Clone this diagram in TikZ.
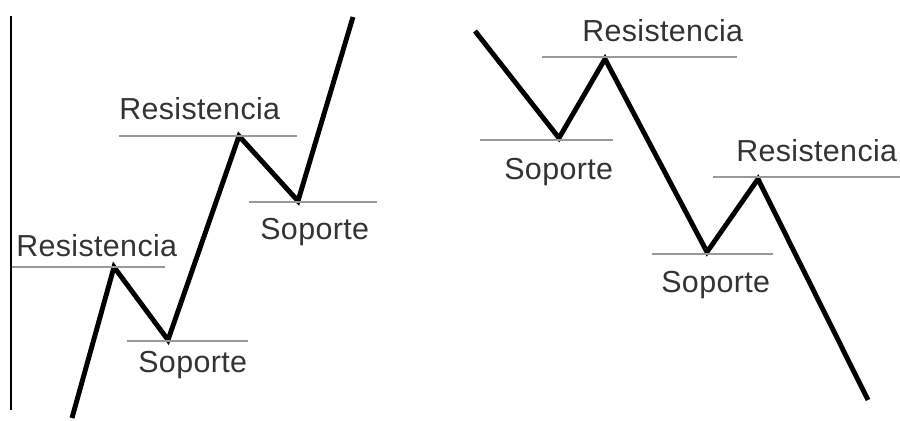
\documentclass[tikz,border=0pt]{standalone}
\usepackage{fontspec}
\setmainfont{Liberation Sans}
\newfontfamily\levelfont{Liberation Sans}[LetterSpace=1.2]
\usepackage{xcolor}
\usetikzlibrary{positioning}

\definecolor{levelgray}{gray}{0.6}
\definecolor{labelgray}{gray}{0.2}

\begin{document}
\begin{tikzpicture}[x=0.02cm,y=-0.02cm,
  price/.style={line width=2.8pt,black},
  level/.style={line width=1.2pt,levelgray},
  label/.style={inner sep=0pt,anchor=base west,text=labelgray,font=\levelfont\fontsize{17.3}{20}\selectfont}]
\useasboundingbox (0,0) rectangle (900,421);

% Left panel: rising market
\coordinate (axtop) at (11,16);
\coordinate (axbot) at (11,410);
\draw[line width=1pt] (axtop) -- (axbot);

\coordinate (u0) at (72,418);
\coordinate (u1) at (114,267);
\coordinate (u2) at (168,340);
\coordinate (u3) at (239,136);
\coordinate (u4) at (298,201);
\coordinate (u5) at (353,17);
\draw[price] (u0) -- (u1) -- (u2) -- (u3) -- (u4) -- (u5);

% Levels (left)
\coordinate (ra1) at (12,267);  \coordinate (rb1) at (165,267);
\coordinate (sa1) at (127,341); \coordinate (sb1) at (248,341);
\coordinate (ra2) at (119,136); \coordinate (rb2) at (297,136);
\coordinate (sa2) at (249,202); \coordinate (sb2) at (377,202);
\draw[level] (ra1) -- (rb1);
\draw[level] (sa1) -- (sb1);
\draw[level] (ra2) -- (rb2);
\draw[level] (sa2) -- (sb2);

\node[label] (res1) at (16,257) {Resistencia};
\node[label] (sop1) at (138,373) {Soporte};
\node[label] (res2) at (119,120) {Resistencia};
\node[label] (sop2) at (260,240) {Soporte};

% Right panel: falling market
\coordinate (d0) at (475,31);
\coordinate (d1) at (559,138);
\coordinate (d2) at (605,59);
\coordinate (d3) at (707,252);
\coordinate (d4) at (758,179);
\coordinate (d5) at (868,400);
\draw[price] (d0) -- (d1) -- (d2) -- (d3) -- (d4) -- (d5);

% Levels (right)
\coordinate (ra3) at (542,57);  \coordinate (rb3) at (737,57);
\coordinate (sa3) at (480,140); \coordinate (sb3) at (613,140);
\coordinate (ra4) at (713,177); \coordinate (rb4) at (900,177);
\coordinate (sa4) at (652,254); \coordinate (sb4) at (773,254);
\draw[level] (ra3) -- (rb3);
\draw[level] (sa3) -- (sb3);
\draw[level] (ra4) -- (rb4);
\draw[level] (sa4) -- (sb4);

\node[label] (res3) at (582,42) {Resistencia};
\node[label] (sop3) at (504,180) {Soporte};
\node[label] (res4) at (736,162) {Resistencia};
\node[label] (sop4) at (661,293) {Soporte};
\end{tikzpicture}
\end{document}
